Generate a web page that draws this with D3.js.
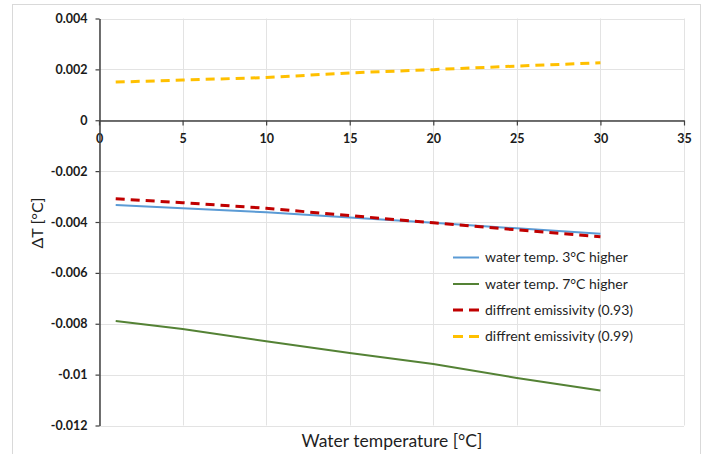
<!DOCTYPE html>
<html>
<head>
    <title>Delta T vs water temperature</title>
    <script src="https://d3js.org/d3.v7.min.js"></script>
    <style>
        body { margin: 0; padding: 0; background: #fff; }
        svg text { font-family: Lato, "Open Sans", sans-serif; }
    </style>
</head>
<body>
    <svg id="chart" width="706" height="454"></svg>
    <script>
        // values
        var waterTemp = [1, 5, 10, 15, 20, 25, 30];
        var higher3 = [-0.00333, -0.00346, -0.00362, -0.00382, -0.00403, -0.00425, -0.00446];
        var higher7 = [-0.00789, -0.00821, -0.00869, -0.00915, -0.00958, -0.01013, -0.01062];
        var emis093 = [-0.00309, -0.00324, -0.00346, -0.00375, -0.00403, -0.00431, -0.00458];
        var emis099 = [0.00150, 0.00158, 0.00168, 0.00186, 0.00199, 0.00213, 0.00226];

        var xTicks = [0, 5, 10, 15, 20, 25, 30, 35];
        var yTicks = [0.004, 0.002, 0, -0.002, -0.004, -0.006, -0.008, -0.01, -0.012];
        var yLabels = ["0.004", "0.002", "0", "-0.002", "-0.004", "-0.006", "-0.008", "-0.01", "-0.012"];

        var series = [
            { name: "water temp. 3°C higher", values: higher3, color: "#5b9bd5", width: 2, dash: null },
            { name: "water temp. 7°C higher", values: higher7, color: "#548235", width: 2, dash: null },
            { name: "diffrent emissivity (0.93)", values: emis093, color: "#c00000", width: 3, dash: "9,6" },
            { name: "diffrent emissivity (0.99)", values: emis099, color: "#ffc000", width: 3, dash: "9,6" }
        ];

        var svg = d3.select("#chart");

        // outer chart frame
        svg.append("rect")
            .attr("x", 12.5).attr("y", 4.5)
            .attr("width", 688).attr("height", 470)
            .attr("fill", "#fff").attr("stroke", "#d9d9d9");

        var x = d3.scaleLinear().domain([0, 35]).range([99, 684]);
        var y = d3.scaleLinear().domain([-0.012, 0.004]).range([425.5, 18.5]);

        // gridlines
        svg.append("g").selectAll("line").data(yTicks).join("line")
            .attr("x1", x(0)).attr("x2", x(35))
            .attr("y1", d => Math.round(y(d)) + 0.5).attr("y2", d => Math.round(y(d)) + 0.5)
            .attr("stroke", "#e3e3e3");
        svg.append("g").selectAll("line").data(xTicks).join("line")
            .attr("y1", y(0.004)).attr("y2", y(-0.012))
            .attr("x1", d => Math.round(x(d)) + 0.5).attr("x2", d => Math.round(x(d)) + 0.5)
            .attr("stroke", "#e3e3e3");

        // axes
        var xAxis = svg.append("g")
            .attr("transform", "translate(0," + (Math.round(y(0)) + 0.5) + ")")
            .call(d3.axisBottom(x).tickValues(xTicks).tickFormat(d3.format("d"))
                .tickSize(5).tickSizeOuter(0).tickPadding(9));
        var yAxis = svg.append("g")
            .attr("transform", "translate(" + (Math.round(x(0)) + 0.5) + ",0)")
            .call(d3.axisLeft(y).tickValues(yTicks).tickFormat((d, i) => yLabels[i])
                .tickSize(4).tickSizeOuter(0).tickPadding(8));

        [xAxis, yAxis].forEach(function (g) {
            g.select(".domain").attr("stroke", "#404040").attr("stroke-width", 1.5);
            g.selectAll(".tick line").attr("stroke", "#404040").attr("stroke-width", 1.2);
            g.selectAll(".tick text")
                .attr("fill", "#1a1a1a")
                .style("font-family", "Lato, 'Open Sans', sans-serif")
                .style("font-size", "12.5px")
                .style("font-weight", "bold");
        });

        // series lines
        var line = d3.line()
            .x((d, i) => x(waterTemp[i]))
            .y(d => y(d));

        svg.append("g").selectAll("path").data(series).join("path")
            .attr("d", d => line(d.values))
            .attr("fill", "none")
            .attr("stroke", d => d.color)
            .attr("stroke-width", d => d.width)
            .attr("stroke-dasharray", d => d.dash);

        // legend
        var legend = svg.append("g").attr("transform", "translate(453,0)");
        var rowY = [257.5, 284, 310, 336.5];
        var item = legend.selectAll("g").data(series).join("g")
            .attr("transform", (d, i) => "translate(0," + rowY[i] + ")");
        item.append("line")
            .attr("x1", 0).attr("x2", 26)
            .attr("stroke", d => d.color)
            .attr("stroke-width", d => d.width)
            .attr("stroke-dasharray", d => d.dash ? "10,6" : null);
        item.append("text")
            .attr("x", 32).attr("dy", "0.35em")
            .attr("fill", "#1f1f1f")
            .style("font-size", "14px")
            .text(d => d.name);

        // axis titles
        svg.append("text")
            .attr("x", 392).attr("y", 447)
            .attr("text-anchor", "middle")
            .attr("fill", "#1f1f1f")
            .style("font-size", "17.5px")
            .text("Water temperature [°C]");
        svg.append("text")
            .attr("transform", "translate(43,223) rotate(-90)")
            .attr("text-anchor", "middle")
            .attr("fill", "#1f1f1f")
            .style("font-size", "16px")
            .text("ΔT [°C]");
    </script>
</body>
</html>
